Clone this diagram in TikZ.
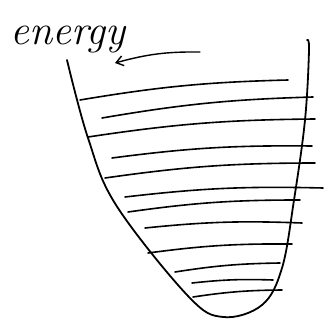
\documentclass[tikz,border=0pt]{standalone}
\usepackage{tikz}
\usetikzlibrary{arrows.meta}

\begin{document}
\begin{tikzpicture}[x=1pt, y=-1pt,
            well/.style={line width=1.8pt, line cap=round, line join=round},
            level/.style={line width=1.6pt, line cap=round},
            pointer/.style={line width=1.4pt, line cap=round, -{Straight Barb[length=7pt, width=10pt]}},
            caption/.style={font=\fontsize{42}{42}\selectfont\itshape, inner sep=0pt}
        ]
        \useasboundingbox (0,0) rectangle (328,328);

        % Beschriftung
        \node[caption, anchor=base west] (energy) at (10,45) {energy};
        \coordinate (pstart) at (200,52);
        \coordinate (pend) at (115,63);
        \draw[pointer] (pstart) to[bend right=8] (pend);

        % Potential
        \draw[well] plot[smooth, tension=0.6] coordinates {(67,60) (88,138) (116,205) (188,296) (223,317) (262,305) (282,268) (294,200) (305,120) (309,50) (307,40)};

        % Niveaus
        \foreach \xa/\ya/\xb/\yb in {80/100/288/80, 102/118/313/97, 88/137/315/119, 112/158/312/146,
                                     105/178/315/163, 125/197/323/188, 128/212/300/200, 145/228/302/223,
                                     148/253/292/244, 175/272/280/263, 192/283/273/280, 193/297/282/290}
            \draw[level] (\xa,\ya) to[bend left=4] (\xb,\yb);

    \end{tikzpicture}
\end{document}
